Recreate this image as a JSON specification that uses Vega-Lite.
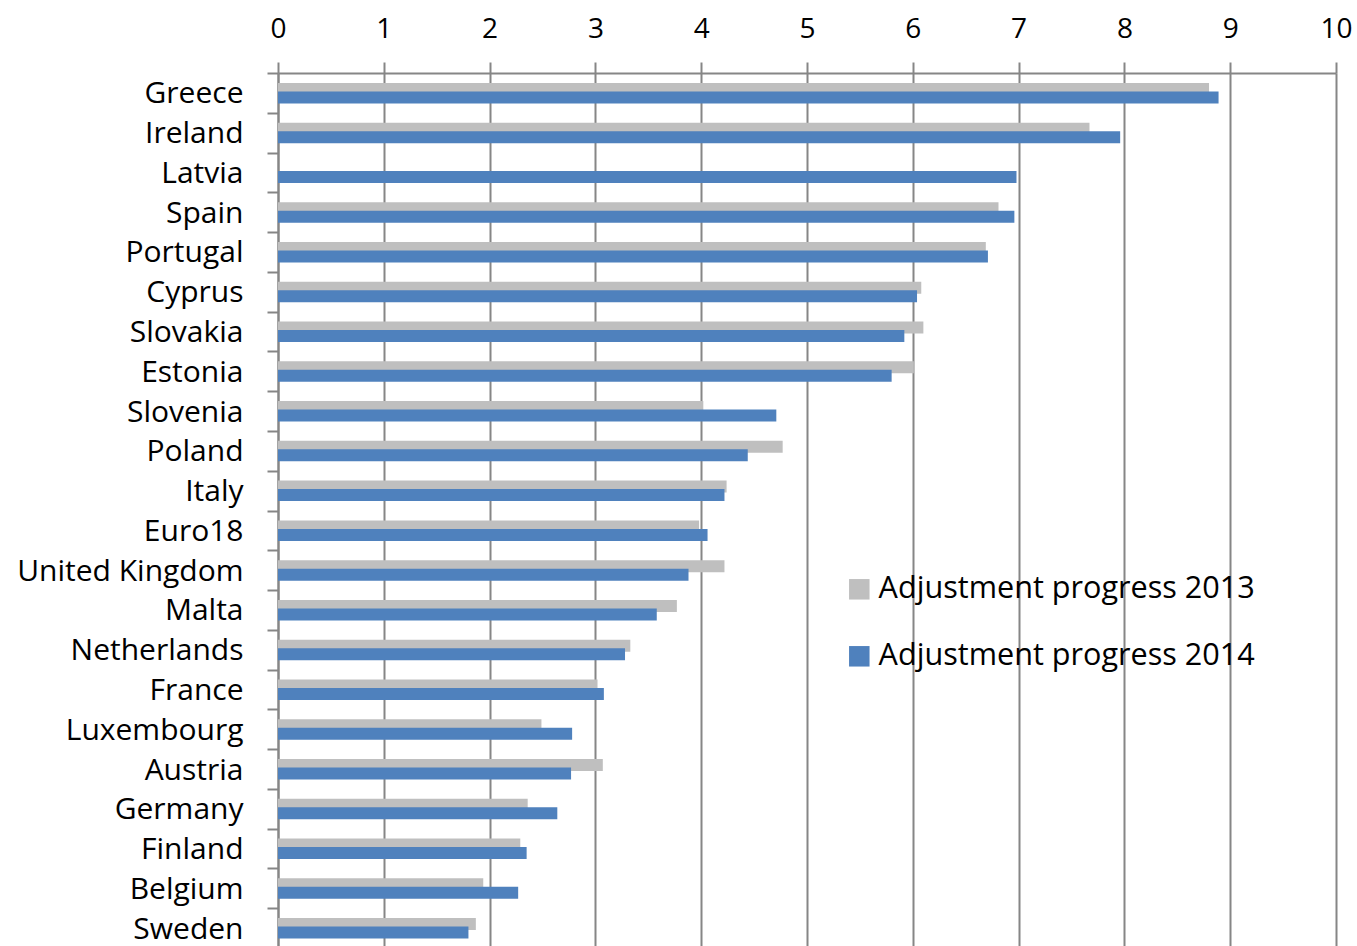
{
  "$schema": "https://vega.github.io/schema/vega-lite/v6.json",
  "width": 1058,
  "height": 873,
  "autosize": {"type": "none"},
  "padding": {"left": 278, "top": 73, "right": 21, "bottom": 0},
  "background": "white",
  "config": {"view": {"stroke": null}, "font": "Open Sans"},
  "data": {
    "values": [
      {"country": "Greece", "2013": 8.80, "2014": 8.89},
      {"country": "Ireland", "2013": 7.67, "2014": 7.96},
      {"country": "Latvia", "2013": null, "2014": 6.98},
      {"country": "Spain", "2013": 6.81, "2014": 6.96},
      {"country": "Portugal", "2013": 6.69, "2014": 6.71},
      {"country": "Cyprus", "2013": 6.08, "2014": 6.04},
      {"country": "Slovakia", "2013": 6.10, "2014": 5.92},
      {"country": "Estonia", "2013": 6.01, "2014": 5.80},
      {"country": "Slovenia", "2013": 4.02, "2014": 4.71},
      {"country": "Poland", "2013": 4.77, "2014": 4.44},
      {"country": "Italy", "2013": 4.24, "2014": 4.22},
      {"country": "Euro18", "2013": 3.98, "2014": 4.06},
      {"country": "United Kingdom", "2013": 4.22, "2014": 3.88},
      {"country": "Malta", "2013": 3.77, "2014": 3.58},
      {"country": "Netherlands", "2013": 3.33, "2014": 3.28},
      {"country": "France", "2013": 3.02, "2014": 3.08},
      {"country": "Luxembourg", "2013": 2.49, "2014": 2.78},
      {"country": "Austria", "2013": 3.07, "2014": 2.77},
      {"country": "Germany", "2013": 2.36, "2014": 2.64},
      {"country": "Finland", "2013": 2.29, "2014": 2.35},
      {"country": "Belgium", "2013": 1.94, "2014": 2.27},
      {"country": "Sweden", "2013": 1.87, "2014": 1.80}
    ]
  },
  "transform": [{"fold": ["2013", "2014"], "as": ["year", "value"]}],
  "encoding": {
    "y": {
      "field": "country",
      "type": "nominal",
      "sort": null,
      "scale": {
        "domain": ["Greece", "Ireland", "Latvia", "Spain", "Portugal", "Cyprus", "Slovakia", "Estonia", "Slovenia", "Poland", "Italy", "Euro18", "United Kingdom", "Malta", "Netherlands", "France", "Luxembourg", "Austria", "Germany", "Finland", "Belgium", "Sweden"],
        "range": [0, 875],
        "paddingInner": 0,
        "paddingOuter": 0
      },
      "axis": {
        "title": null,
        "orient": "left",
        "domainColor": "#868686",
        "domainWidth": 2,
        "tickColor": "#868686",
        "tickWidth": 2,
        "tickSize": 11,
        "tickBand": "extent",
        "labelFont": "Open Sans",
        "labelFontSize": 30,
        "labelColor": "#000000",
        "labelPadding": 24,
        "labelOffset": 1,
        "labelLimit": 0,
        "grid": false
      }
    },
    "x": {
      "field": "value",
      "type": "quantitative",
      "scale": {"domain": [0, 10], "nice": false, "zero": true},
      "axis": {
        "title": null,
        "orient": "top",
        "values": [0, 1, 2, 3, 4, 5, 6, 7, 8, 9, 10],
        "format": "d",
        "grid": true,
        "gridColor": "#868686",
        "gridWidth": 2,
        "gridOpacity": 1,
        "domainColor": "#868686",
        "domainWidth": 2,
        "tickColor": "#868686",
        "tickWidth": 2,
        "tickSize": 11,
        "labelFont": "Open Sans",
        "labelFontSize": 28,
        "labelColor": "#000000",
        "labelPadding": 25,
        "labelBaseline": "alphabetic",
        "labelFlush": false
      }
    },
    "color": {
      "field": "year",
      "type": "nominal",
      "scale": {"domain": ["2013", "2014"], "range": ["#BFBFBF", "#4F81BD"]},
      "legend": {
        "title": null,
        "orient": "none",
        "legendX": 566,
        "legendY": 501,
        "padding": 0,
        "symbolType": "square",
        "symbolSize": 420,
        "symbolStrokeWidth": 0,
        "symbolOpacity": 1,
        "labelFont": "Open Sans",
        "labelFontSize": 30.6,
        "labelColor": "#000000",
        "labelOffset": 4,
        "rowPadding": 36,
        "labelLimit": 0,
        "labelExpr": "'Adjustment progress ' + datum.label"
      }
    }
  },
  "layer": [
    {
      "transform": [{"filter": "datum.year == '2013'"}],
      "mark": {"type": "bar", "height": 12, "yOffset": -4}
    },
    {
      "transform": [{"filter": "datum.year == '2014'"}],
      "mark": {"type": "bar", "height": 12, "yOffset": 4.5}
    }
  ]
}
